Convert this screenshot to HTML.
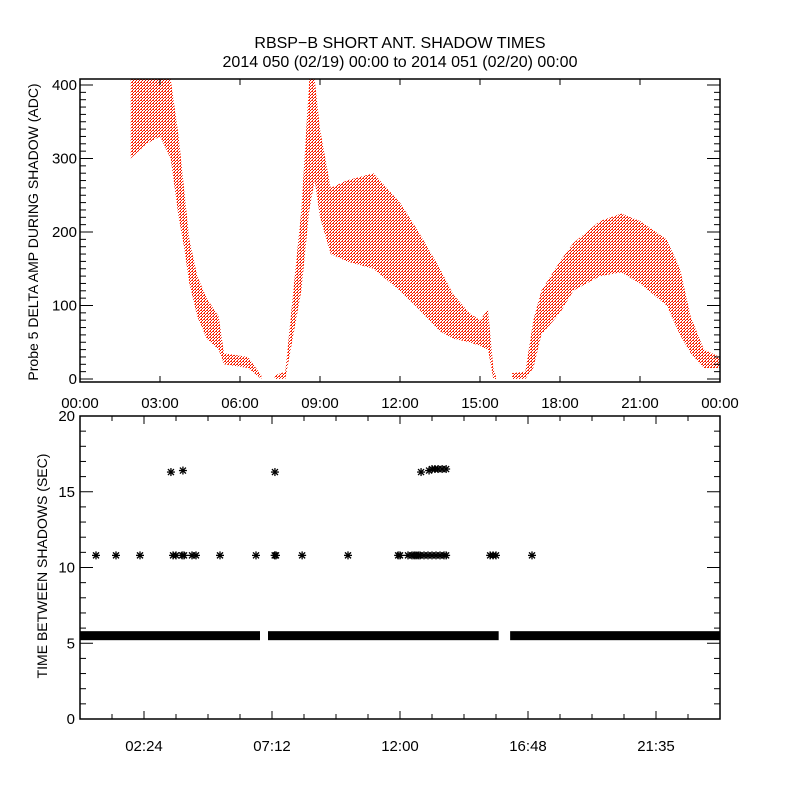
<!DOCTYPE html>
<html><head><meta charset="utf-8"><style>
body{margin:0;background:#fff;}
svg{display:block;font-family:"Liberation Sans",sans-serif;}
</style></head><body>
<svg id="chart" width="800" height="800" viewBox="0 0 800 800">
<defs>
<pattern id="dots" width="3" height="3" patternUnits="userSpaceOnUse">
<rect x="0" y="0" width="1" height="1" fill="#ff2000"/>
<rect x="2" y="1" width="1" height="1" fill="#ff2000"/>
<rect x="1" y="2" width="1" height="1" fill="#e01000"/>
<rect x="0" y="1" width="1" height="1" fill="#ff3010"/>
</pattern>
</defs>
<text x="400" y="48" text-anchor="middle" font-size="16">RBSP−B SHORT ANT. SHADOW TIMES</text>
<text x="400" y="67" text-anchor="middle" font-size="16">2014 050 (02/19) 00:00 to 2014 051 (02/20) 00:00</text>
<g id="topPanel"></g>
<g id="botPanel"></g>
</svg>
<script>
// Top panel data: time (hours), lower/upper envelope of ADC amplitude
const ampTimes = [1.9,2.5,3.0,3.4,3.7,3.9,4.1,4.4,4.75,5.2,5.4,6.3,6.8,6.81,7.29,7.3,7.7,8.0,8.3,8.6,8.8,9.0,9.4,10.0,11.0,12.0,12.7,13.5,14.0,14.6,15.0,15.3,15.5,15.6,15.61,16.19,16.2,16.7,17.0,17.3,18.0,18.5,19.5,20.3,21.0,22.0,22.5,22.9,23.4,24.0];
const ampLow  = [300,320,330,300,220,180,130,85,55,40,20,15,0,null,null,0,0,60,120,230,270,220,170,160,150,120,95,65,55,50,45,40,0,0,null,null,0,0,15,60,90,120,140,145,130,100,60,35,15,15];
const ampHigh = [408,408,408,408,330,260,190,140,110,85,35,30,5,null,null,5,10,120,230,408,408,340,260,270,280,240,200,150,115,90,80,95,15,3,null,null,8,10,80,120,160,185,215,225,215,190,150,85,40,30];
// Bottom panel data
const bandSegments = [[0,6.75],[7.05,15.7],[16.13,24]];
const bandValue = 5.5;
const star11Times = [0.6,1.35,2.25,3.49,3.6,3.83,3.9,4.2,4.35,5.25,6.6,7.3,7.35,8.33,10.05,11.93,12.0,12.3,12.45,12.53,12.6,12.68,12.75,12.9,13.05,13.2,13.35,13.5,13.65,13.73,15.38,15.49,15.6,16.95];
const star11Values = star11Times.map(()=>10.8);
const star16Times = [3.41,3.86,7.31,12.79,13.09,13.2,13.31,13.43,13.58,13.73];
const star16Values = [16.3,16.4,16.3,16.3,16.4,16.5,16.5,16.5,16.5,16.5];
const topXTicks = ["00:00","03:00","06:00","09:00","12:00","15:00","18:00","21:00","00:00"];
const botXTickTimes = [2.4,7.2,12.0,16.8,21.6];
const botXTickLabels = ["02:24","07:12","12:00","16:48","21:35"];

const NS="http://www.w3.org/2000/svg";
function mk(parent,tag,attrs){const e=document.createElementNS(NS,tag);for(const k in attrs)e.setAttribute(k,attrs[k]);parent.appendChild(e);return e;}
const L=80,R=720;
const xs=t=>L+(t/24)*(R-L);
// top panel
const T0=79,T1=382;
const yT=v=>379-v*0.735;
const topG=document.getElementById('topPanel');
let seg=[];const segs=[];
ampTimes.forEach((t,i)=>{if(ampLow[i]===null){if(seg.length)segs.push(seg);seg=[];}else seg.push(i);});
if(seg.length)segs.push(seg);
segs.forEach((s,j)=>{
 let pts=s.map(i=>xs(ampTimes[i])+","+yT(Math.min(ampHigh[i],408)));
 pts=pts.concat(s.slice().reverse().map(i=>xs(ampTimes[i])+","+yT(ampLow[i])));
 const p=mk(topG,'polygon',{points:pts.join(' '),fill:'url(#dots)'});
 
 
});
const fr=mk(topG,'rect',{x:L,y:T0,width:R-L,height:T1-T0,fill:'none',stroke:'#000','stroke-width':1.5});


for(let v=0;v<=400;v+=10){
 const y=yT(v),len=v%100===0?13:6;
 mk(topG,'line',{x1:L,x2:L+len,y1:y,y2:y,stroke:'#000'});
 mk(topG,'line',{x1:R,x2:R-len,y1:y,y2:y,stroke:'#000'});
 if(v%100===0){const t=mk(topG,'text',{x:L-3,y:y+5,'text-anchor':'end','font-size':15});t.textContent=v;
  
  }
}
topXTicks.forEach((lab,i)=>{
 const x=xs(i*3);
 mk(topG,'line',{x1:x,x2:x,y1:T1,y2:T1-6,stroke:'#000'});
 mk(topG,'line',{x1:x,x2:x,y1:T0,y2:T0+6,stroke:'#000'});
 const t=mk(topG,'text',{x:x,y:408,'text-anchor':'middle','font-size':15});t.textContent=lab;
 
 
});
const yt=mk(topG,'text',{x:0,y:0,'text-anchor':'middle','font-size':14,transform:'translate(38,232) rotate(-90)'});
yt.textContent='Probe 5 DELTA AMP DURING SHADOW (ADC)';


// bottom panel
const B0=416,B1=719;
const yB=v=>719-v*15.15;
const botG=document.getElementById('botPanel');
bandSegments.forEach((s,i)=>{
 const r=mk(botG,'rect',{x:xs(s[0]),y:yB(bandValue)-4.5,width:xs(s[1])-xs(s[0]),height:9,fill:'#000'});
 
 
});
function star(t,v,name){
 const x=xs(t),y=yB(v);
 const g=mk(botG,'g',{stroke:'#000','stroke-width':1.3});
 
 
 mk(g,'line',{x1:x-4,x2:x+4,y1:y,y2:y});
 mk(g,'line',{x1:x,x2:x,y1:y-4,y2:y+4});
 mk(g,'line',{x1:x-3,x2:x+3,y1:y-3,y2:y+3});
 mk(g,'line',{x1:x-3,x2:x+3,y1:y+3,y2:y-3});
}
star11Times.forEach((t,i)=>star(t,star11Values[i],'interval-point'));
star16Times.forEach((t,i)=>star(t,star16Values[i],'interval-point-high'));
const fb=mk(botG,'rect',{x:L,y:B0,width:R-L,height:B1-B0,fill:'none',stroke:'#000','stroke-width':1.5});


for(let v=0;v<=20;v+=1){
 const y=yB(v),len=v%5===0?13:6;
 mk(botG,'line',{x1:L,x2:L+len,y1:y,y2:y,stroke:'#000'});
 mk(botG,'line',{x1:R,x2:R-len,y1:y,y2:y,stroke:'#000'});
 if(v%5===0){const t=mk(botG,'text',{x:L-5,y:y+5,'text-anchor':'end','font-size':15});t.textContent=v;
  
  }
}
for(let k=1;k<20;k++){
 const x=xs(k*1.2),len=k%4===2?8:5;
 mk(botG,'line',{x1:x,x2:x,y1:B1,y2:B1-len,stroke:'#000'});
 mk(botG,'line',{x1:x,x2:x,y1:B0,y2:B0+len,stroke:'#000'});
}
botXTickTimes.forEach((t,i)=>{
 const l=mk(botG,'text',{x:xs(t),y:751,'text-anchor':'middle','font-size':15});l.textContent=botXTickLabels[i];
 
 
});
const by=mk(botG,'text',{x:0,y:0,'text-anchor':'middle','font-size':14,transform:'translate(47,566) rotate(-90)'});
by.textContent='TIME BETWEEN SHADOWS (SEC)';


</script>
</body></html>
